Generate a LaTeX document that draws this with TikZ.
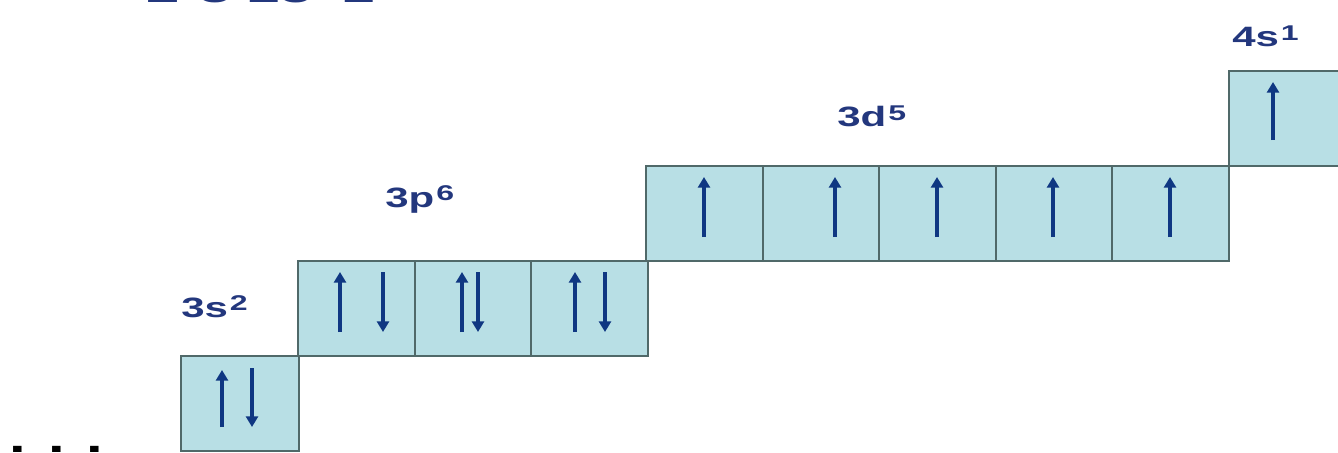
\documentclass[tikz,border=0pt]{standalone}
\usepackage{fontspec}
\setmainfont{Liberation Sans}
\usetikzlibrary{arrows.meta}
\definecolor{boxfill}{RGB}{184,223,229}
\definecolor{boxline}{RGB}{80,105,105}
\definecolor{lblc}{RGB}{35,55,125}
\definecolor{spinc}{RGB}{15,55,130}
\newcommand{\lbl}[2]{\scalebox{1.5}[1]{\fontsize{21}{21}\selectfont\bfseries #1\kern1pt\raisebox{4.6pt}{\fontsize{16}{16}\selectfont #2}}}
\newcommand{\bigtxt}[1]{\scalebox{1.45}[1]{\fontsize{31}{31}\selectfont\bfseries #1}}
\begin{document}
\begin{tikzpicture}[x=0.75pt,y=-0.75pt,
  orb/.style={draw=boxline,fill=boxfill,line width=1.5pt,minimum width=87.4pt,minimum height=71.25pt,inner sep=0pt,anchor=north west},
  orbs/.style={orb,minimum width=88.5pt},
  spin/.style={draw=spinc,line width=2.7pt,-{Triangle[width=9pt,length=8pt]}},
  label/.style={text=lblc,inner sep=0pt,anchor=base west},
  top/.style={text=lblc,inner sep=0pt,anchor=base}]
\useasboundingbox (0,0) rectangle (1338,453);
\clip (0,0) rectangle (1338,453);
% top (clipped) line
\node[top] (t1) at (163,3) {\bigtxt{2}};
\node[top] (t2) at (215,3) {\bigtxt{8}};
\node[top] (t3) at (280,3) {\bigtxt{13}};
\node[top] (t4) at (358,3) {\bigtxt{1}};
% dots
\node[inner sep=0pt,anchor=base west] (dots) at (9,452) {\bigtxt{. . .}};
% boxes
\node[orbs] (s3) at (180,355) {};
\node[orb] (p1) at (297,260) {};
\node[orb] (p2) at (413.5,260) {};
\node[orb] (p3) at (530,260) {};
\node[orb] (d1) at (645,165) {};
\node[orb] (d2) at (761.6,165) {};
\node[orb] (d3) at (878.2,165) {};
\node[orb] (d4) at (994.8,165) {};
\node[orb] (d5) at (1111.4,165) {};
\node[orb] (s4) at (1228,70) {};
% labels
\node[label] (l3s) at (181,317) {\lbl{3s}{2}};
\node[label] (l3p) at (385,207) {\lbl{3p}{6}};
\node[label] (l3d) at (837,127) {\lbl{3d}{5}};
\node[label] (l4s) at (1232,47) {\lbl{4s}{1}};
% spins 3s
\draw[spin] (222,427) -- (222,370);
\draw[spin] (252,368) -- (252,427);
% spins 3p
\draw[spin] (340,332) -- (340,272);
\draw[spin] (383,272) -- (383,332);
\draw[spin] (462,332) -- (462,272);
\draw[spin] (478,272) -- (478,332);
\draw[spin] (575,332) -- (575,272);
\draw[spin] (605,272) -- (605,332);
% spins 3d
\draw[spin] (704,237) -- (704,177);
\draw[spin] (835,237) -- (835,177);
\draw[spin] (937,237) -- (937,177);
\draw[spin] (1053,237) -- (1053,177);
\draw[spin] (1170,237) -- (1170,177);
% spin 4s
\draw[spin] (1273,140) -- (1273,82);
\end{tikzpicture}
\end{document}
